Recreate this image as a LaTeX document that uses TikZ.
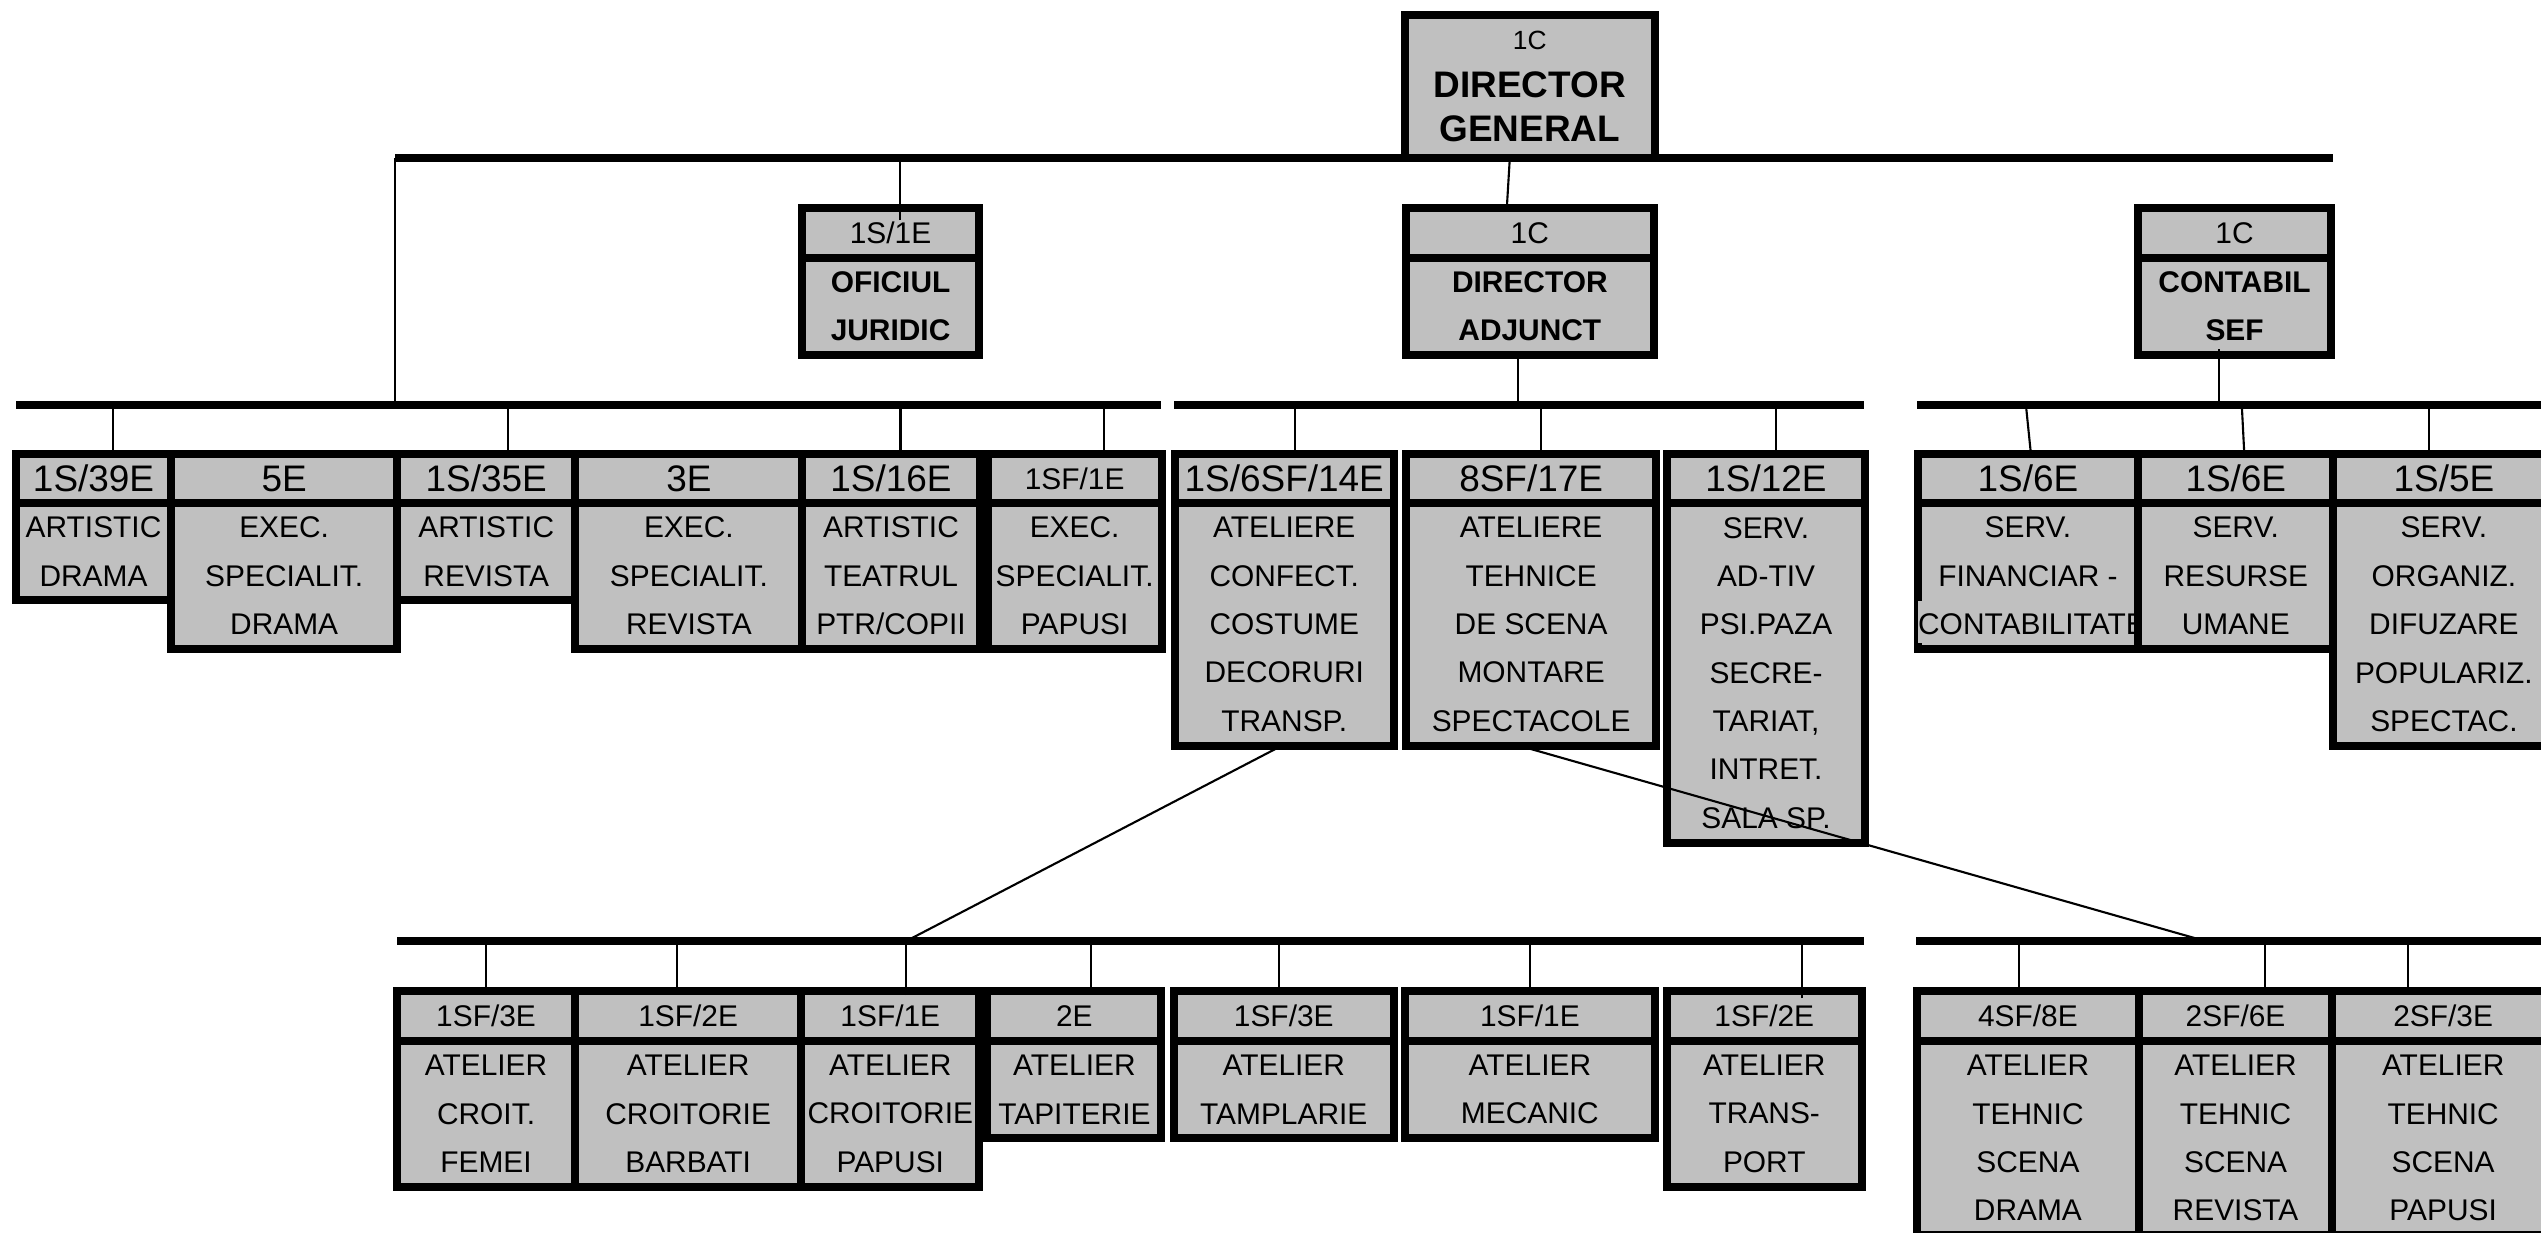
\documentclass[tikz,border=0pt]{standalone}
\usepackage{fontspec}
\setmainfont{Liberation Sans}
\usetikzlibrary{positioning}
\definecolor{boxgray}{RGB}{192,192,192}
\tikzset{
  hd/.style={draw, line width=0.08cm, fill=boxgray, inner sep=0pt, outer sep=0pt, minimum height=0.49cm, font=\fontsize{10.5}{12}\selectfont},
  smallhd/.style={hd, minimum height=0.5cm, font=\fontsize{8.5}{10}\selectfont},
  bd/.style={draw, line width=0.08cm, fill=boxgray, inner sep=0pt, outer sep=0pt, align=center, font=\fontsize{8.5}{13.75}\selectfont},
  boldbd/.style={bd, font=\fontsize{8.5}{13.75}\selectfont\bfseries},
  nlines/.style={minimum height=#1*0.485cm},
  bus/.style={line width=0.08cm},
  link/.style={line width=0.6pt}
}
\begin{document}
\begin{tikzpicture}[x=0.01cm, y=-0.01cm]
\useasboundingbox (0,0) rectangle (2541,1232);
\clip (0,0) rectangle (2541,1232);

% top
\node[draw, line width=0.08cm, fill=boxgray, inner sep=0pt, outer sep=0pt, anchor=north west, minimum width=2.495cm, minimum height=1.43cm, align=center, font=\fontsize{10.5}{12.5}\selectfont\bfseries] (dg) at (1405,15) {{\mdseries\fontsize{7.5}{9}\selectfont 1C}\\[1pt]DIRECTOR\\GENERAL};

\node[smallhd, anchor=north west, minimum width=1.77cm] (hoj) at (802,208) {1S/1E};
\node[boldbd, minimum width=1.77cm, minimum height=0.965cm, below=0pt of hoj] (boj) {OFICIUL\\JURIDIC};
\node[smallhd, anchor=north west, minimum width=2.485cm] (hda) at (1405.5,208) {1C};
\node[boldbd, minimum width=2.485cm, minimum height=0.965cm, below=0pt of hda] (bda) {DIRECTOR\\ADJUNCT};
\node[smallhd, anchor=north west, minimum width=1.93cm] (hcs) at (2138,208) {1C};
\node[boldbd, minimum width=1.93cm, minimum height=0.965cm, below=0pt of hcs] (bcs) {CONTABIL\\SEF};

% compartments
\node[hd, anchor=north west, minimum width=1.55cm] (h1) at (16,454) {1S/39E};
\node[hd, minimum width=2.26cm, right=0pt of h1] (h2) {5E};
\node[hd, minimum width=1.78cm, right=0pt of h2] (h3) {1S/35E};
\node[hd, minimum width=2.27cm, right=0pt of h3] (h4) {3E};
\node[hd, minimum width=1.77cm, right=0pt of h4] (h5) {1S/16E};
\node[hd, font=\fontsize{8.5}{10}\selectfont, minimum width=1.74cm, right=0.08cm of h5] (h6) {1SF/1E};
\node[hd, minimum width=2.19cm, right=0.13cm of h6] (h7) {1S/6SF/14E};
\node[hd, minimum width=2.495cm, right=0.125cm of h7] (h8) {8SF/17E};
\node[hd, minimum width=1.98cm, right=0.11cm of h8] (h9) {1S/12E};
\node[hd, minimum width=2.205cm, right=0.525cm of h9] (h10) {1S/6E};
\node[hd, minimum width=1.95cm, right=0pt of h10] (h11) {1S/6E};
\node[hd, minimum width=2.21cm, right=0pt of h11] (h12) {1S/5E};

\node[bd, nlines=2, minimum width=1.55cm, below=0pt of h1] (b1) {ARTISTIC\\DRAMA};
\node[bd, nlines=3, minimum width=2.26cm, below=0pt of h2] (b2) {EXEC.\\SPECIALIT.\\DRAMA};
\node[bd, nlines=2, minimum width=1.78cm, below=0pt of h3] (b3) {ARTISTIC\\REVISTA};
\node[bd, nlines=3, minimum width=2.27cm, below=0pt of h4] (b4) {EXEC.\\SPECIALIT.\\REVISTA};
\node[bd, nlines=3, minimum width=1.77cm, below=0pt of h5] (b5) {ARTISTIC\\TEATRUL\\PTR/COPII};
\node[bd, nlines=3, minimum width=1.74cm, below=0pt of h6] (b6) {EXEC.\\SPECIALIT.\\PAPUSI};
\node[bd, nlines=5, minimum width=2.19cm, below=0pt of h7] (b7) {ATELIERE\\CONFECT.\\COSTUME\\DECORURI\\TRANSP.};
\node[bd, nlines=5, minimum width=2.495cm, below=0pt of h8] (b8) {ATELIERE\\TEHNICE\\DE SCENA\\MONTARE\\SPECTACOLE};
\node[bd, nlines=7, minimum width=1.98cm, below=0pt of h9] (b9) {SERV.\\AD-TIV\\PSI.PAZA\\SECRE-\\TARIAT,\\INTRET.\\SALA SP.};
\node[bd, nlines=3, minimum width=2.205cm, below=0pt of h10] (b10) {SERV.\\FINANCIAR -\\\makebox[0pt]{\hspace{0.08cm}\smash{\setlength{\fboxsep}{0pt}\colorbox{boxgray}{\rule[-2.5pt]{0pt}{12pt}CONTABILITATE}}}};
\node[bd, nlines=3, minimum width=1.95cm, below=0pt of h11] (b11) {SERV.\\RESURSE\\UMANE};
\node[bd, nlines=5, minimum width=2.21cm, below=0pt of h12] (b12) {SERV.\\ORGANIZ.\\DIFUZARE\\POPULARIZ.\\SPECTAC.};

% workshops
\node[smallhd, anchor=north west, minimum width=1.78cm] (l1) at (397,991) {1SF/3E};
\node[smallhd, minimum width=2.26cm, right=0pt of l1] (l2) {1SF/2E};
\node[smallhd, minimum width=1.78cm, right=0pt of l2] (l3) {1SF/1E};
\node[smallhd, minimum width=1.74cm, right=0.08cm of l3] (l4) {2E};
\node[smallhd, minimum width=2.195cm, right=0.125cm of l4] (l5) {1SF/3E};
\node[smallhd, minimum width=2.495cm, right=0.115cm of l5] (l6) {1SF/1E};
\node[smallhd, minimum width=1.95cm, right=0.12cm of l6] (l7) {1SF/2E};
\node[smallhd, minimum width=2.22cm, right=0.55cm of l7] (m1) {4SF/8E};
\node[smallhd, minimum width=1.93cm, right=0pt of m1] (m2) {2SF/6E};
\node[smallhd, minimum width=2.22cm, right=0pt of m2] (m3) {2SF/3E};

\node[bd, nlines=3, minimum width=1.78cm, below=0pt of l1] (k1) {ATELIER\\CROIT.\\FEMEI};
\node[bd, nlines=3, minimum width=2.26cm, below=0pt of l2] (k2) {ATELIER\\CROITORIE\\BARBATI};
\node[bd, nlines=3, minimum width=1.78cm, below=0pt of l3] (k3) {ATELIER\\CROITORIE\\PAPUSI};
\node[bd, nlines=2, minimum width=1.74cm, below=0pt of l4] (k4) {ATELIER\\TAPITERIE};
\node[bd, nlines=2, minimum width=2.195cm, below=0pt of l5] (k5) {ATELIER\\TAMPLARIE};
\node[bd, nlines=2, minimum width=2.495cm, below=0pt of l6] (k6) {ATELIER\\MECANIC};
\node[bd, nlines=3, minimum width=1.95cm, below=0pt of l7] (k7) {ATELIER\\TRANS-\\PORT};
\node[bd, nlines=4, minimum width=2.22cm, below=0pt of m1] (n1) {ATELIER\\TEHNIC\\SCENA\\DRAMA};
\node[bd, nlines=4, minimum width=1.93cm, below=0pt of m2] (n2) {ATELIER\\TEHNIC\\SCENA\\REVISTA};
\node[bd, nlines=4, minimum width=2.22cm, below=0pt of m3] (n3) {ATELIER\\TEHNIC\\SCENA\\PAPUSI};

% bus lines
\coordinate (topbus-w) at (395,158);
\coordinate (topbus-e) at (2333,158);
\coordinate (busA-w) at (16,405);
\coordinate (busA-e) at (1161,405);
\coordinate (busB-w) at (1174,405);
\coordinate (busB-e) at (1864,405);
\coordinate (busC-w) at (1917,405);
\coordinate (busC-e) at (2560,405);
\coordinate (busD-w) at (397,941);
\coordinate (busD-e) at (1864,941);
\coordinate (busE-w) at (1916,941);
\coordinate (busE-e) at (2560,941);

\draw[bus] (topbus-w) -- (topbus-e);
\draw[bus] (busA-w) -- (busA-e);
\draw[bus] (busB-w) -- (busB-e);
\draw[bus] (busC-w) -- (busC-e);
\draw[bus] (busD-w) -- (busD-e);
\draw[bus] (busE-w) -- (busE-e);

\draw[link] (topbus-w) -- (topbus-w |- busA-w);
\draw[link] ([xshift=-0.2cm]dg.south) -- ([xshift=-0.23cm]hda.north);
\draw[link] ([xshift=0.095cm, yshift=-0.12cm]hoj.north) -- ([xshift=0.095cm]hoj.north |- topbus-w);
\draw[link] ([xshift=-0.12cm]bda.south) -- ([xshift=-0.12cm]bda.south |- busB-w);
\draw[link] ([xshift=-0.155cm, yshift=0.055cm]bcs.south) -- ([xshift=-0.155cm]bcs.south |- busC-w);

\draw[link] ([xshift=0.195cm]h1.north) -- ([xshift=0.195cm]h1.north |- busA-w);
\draw[link] ([xshift=0.22cm]h3.north) -- ([xshift=0.22cm]h3.north |- busA-w);
\draw[link] ([xshift=0.095cm]h5.north) -- ([xshift=0.095cm]h5.north |- busA-w);
\draw[link] ([xshift=0.29cm]h6.north) -- ([xshift=0.29cm]h6.north |- busA-w);
\draw[link] ([xshift=0.11cm]h7.north) -- ([xshift=0.11cm]h7.north |- busB-w);
\draw[link] ([xshift=0.095cm]h8.north) -- ([xshift=0.095cm]h8.north |- busB-w);
\draw[link] ([xshift=0.1cm]h9.north) -- ([xshift=0.1cm]h9.north |- busB-w);
\draw[link] ([xshift=0.03cm]h10.north) -- ([xshift=-0.02cm]h10.north |- busC-w);
\draw[link] ([xshift=0.085cm]h11.north) -- ([xshift=0.06cm]h11.north |- busC-w);
\draw[link] ([xshift=-0.145cm]h12.north) -- ([xshift=-0.145cm]h12.north |- busC-w);

\draw[link] ([xshift=-0.025cm]b7.south) -- ([xshift=0.16cm]l3.north |- busD-w);
\draw[link] ([xshift=-0.12cm]b8.south) -- ([xshift=-0.305cm]m2.north |- busE-w);

\draw[link] (l1.north) -- (l1.north |- busD-w);
\draw[link] ([xshift=-0.11cm]l2.north) -- ([xshift=-0.11cm]l2.north |- busD-w);
\draw[link] ([xshift=0.16cm, yshift=-0.04cm]l3.north) -- ([xshift=0.16cm]l3.north |- busD-w);
\draw[link] ([xshift=0.17cm]l4.north) -- ([xshift=0.17cm]l4.north |- busD-w);
\draw[link] ([xshift=-0.05cm]l5.north) -- ([xshift=-0.05cm]l5.north |- busD-w);
\draw[link] (l6.north) -- (l6.north |- busD-w);
\draw[link] ([xshift=0.375cm, yshift=-0.07cm]l7.north) -- ([xshift=0.375cm]l7.north |- busD-w);
\draw[link] ([xshift=-0.09cm]m1.north) -- ([xshift=-0.09cm]m1.north |- busE-w);
\draw[link] ([xshift=0.295cm]m2.north) -- ([xshift=0.295cm]m2.north |- busE-w);
\draw[link] ([xshift=-0.355cm]m3.north) -- ([xshift=-0.355cm]m3.north |- busE-w);
\end{tikzpicture}
\end{document}
